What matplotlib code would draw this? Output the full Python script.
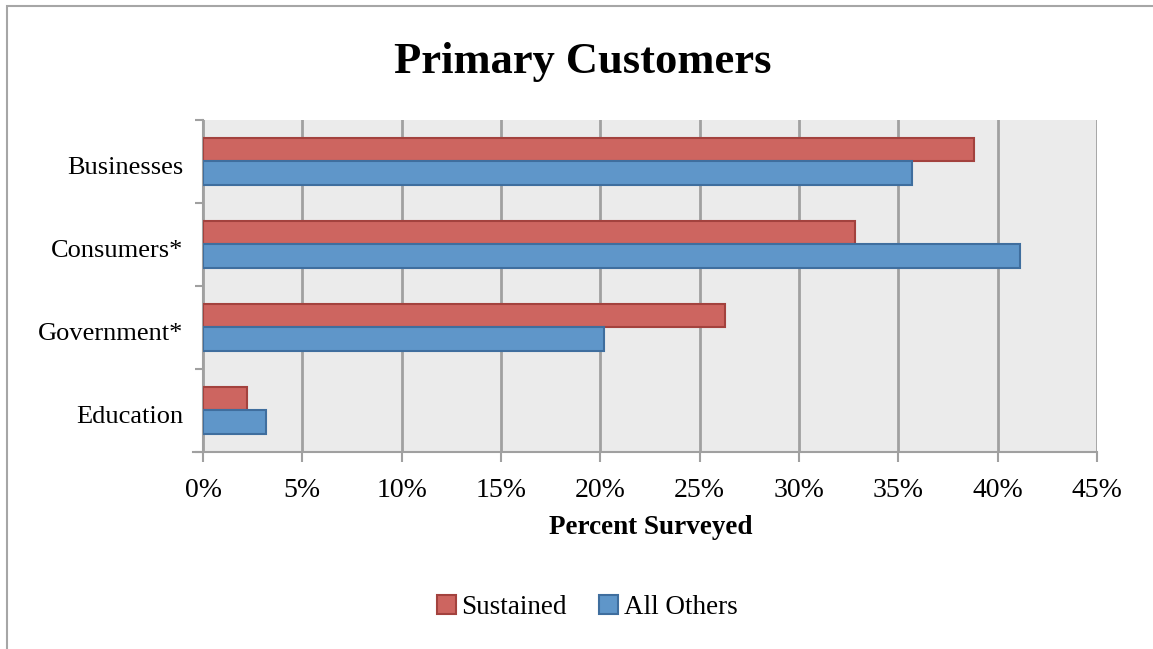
import matplotlib
matplotlib.use("Agg")
import matplotlib.pyplot as plt
import matplotlib.transforms as mtransforms
import numpy as np
from matplotlib.patches import Rectangle
from matplotlib.ticker import FuncFormatter, MultipleLocator

categories = ["Businesses", "Consumers*", "Government*", "Education"]
sustained = [38.8, 32.8, 26.3, 2.2]
all_others = [35.7, 41.1, 20.2, 3.15]
series_names = ["Sustained", "All Others"]
title = "Primary Customers"
xlabel = "Percent Surveyed"

W, H = 1153, 649
fig = plt.figure(figsize=(W / 100, H / 100), dpi=100)
plt.rcParams['font.family'] = ['Liberation Serif', 'DejaVu Serif']

# chart frame (partially visible)
fig.patches.append(Rectangle((7 / W, -0.1), 1.2, (1 - 6 / H) + 0.1, transform=fig.transFigure,
                             fill=False, edgecolor="#A6A6A6", linewidth=1.5, zorder=0))

ax = fig.add_axes([203 / W, 1 - 452 / H, (1097 - 203) / W, (452 - 120) / H])
ax.set_facecolor("#EBEBEB")

n = len(categories)
y = np.arange(n)[::-1].astype(float)
h = 0.28
red, red_e = "#CD6560", "#A3423E"
blue, blue_e = "#5F96C9", "#3F6E9E"
ax.barh(y + h / 2, sustained, height=h, color=red, edgecolor=red_e, linewidth=1.5, zorder=3,
        label=series_names[0])
ax.barh(y - h / 2, all_others, height=h, color=blue, edgecolor=blue_e, linewidth=1.5, zorder=3,
        label=series_names[1])

ax.set_xlim(0, 45)
ax.set_ylim(-0.5, n - 0.5)
ax.xaxis.set_major_locator(MultipleLocator(5))
ax.xaxis.set_major_formatter(FuncFormatter(lambda v, p: f"{int(round(v))}%"))
ax.grid(axis="x", color="#A0A0A0", linewidth=2, zorder=1)
ax.set_axisbelow(True)

ax.set_yticks(y)
ax.set_yticklabels(categories)
ax.set_yticks(np.arange(-0.5, n, 1.0), minor=True)
ax.tick_params(axis="y", which="major", length=0, pad=14, labelsize=19)
ax.tick_params(axis="y", which="minor", length=6, width=1.5, color="#A0A0A0")
ax.tick_params(axis="x", which="major", length=7, width=1.5, color="#A0A0A0", labelsize=20, pad=12)
offset = mtransforms.ScaledTranslation(0, -4 / 100, fig.dpi_scale_trans)
for lbl in ax.get_yticklabels():
    lbl.set_transform(lbl.get_transform() + offset)

for s in ["top", "right"]:
    ax.spines[s].set_visible(False)
for s in ["left", "bottom"]:
    ax.spines[s].set_color("#A0A0A0")
    ax.spines[s].set_linewidth(1.5)
ax.spines["bottom"].set_bounds(-0.5, 45)

fig.text(583 / W, 1 - 62 / H, title, ha="center", va="center", fontsize=32, fontweight="bold")
fig.text(651 / W, 1 - 527 / H, xlabel, ha="center", va="center", fontsize=19.5, fontweight="bold")

fig.legend(loc="center", bbox_to_anchor=(587 / W, 1 - 607 / H), ncol=2, frameon=False,
           fontsize=19.5, handlelength=0.7, handleheight=0.7, handletextpad=0.2, columnspacing=1.2)

fig.savefig("out.png", dpi=100)
